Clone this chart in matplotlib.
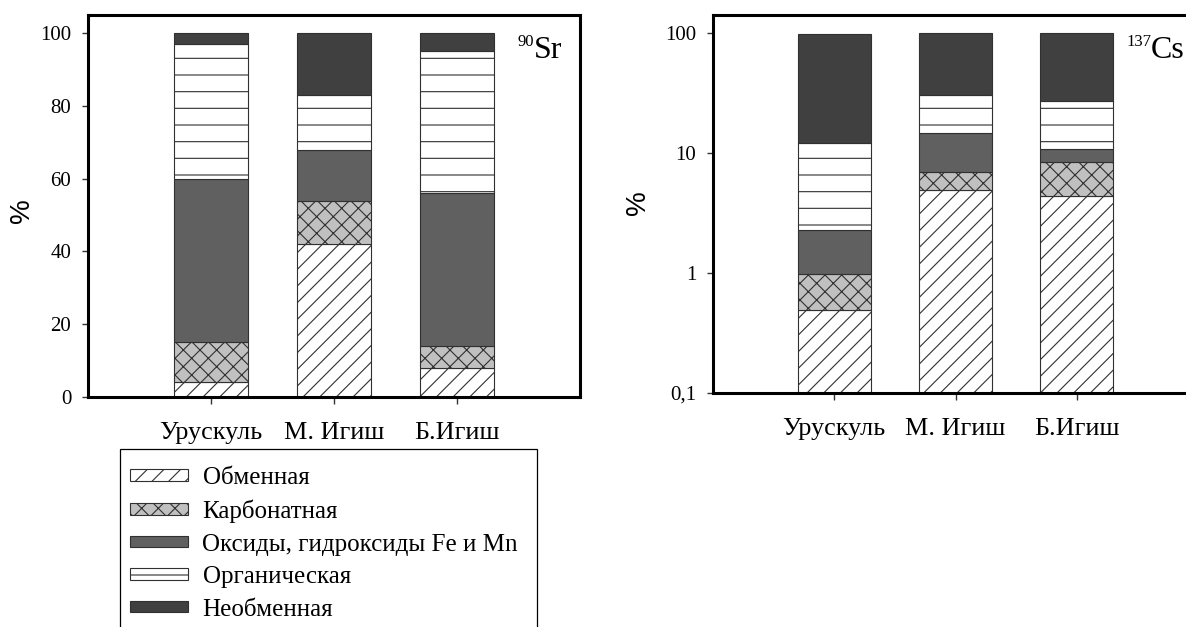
import matplotlib
matplotlib.use('Agg')
import matplotlib.pyplot as plt
from matplotlib.patches import Rectangle
from matplotlib.ticker import NullLocator
from matplotlib.transforms import ScaledTranslation

plt.rcParams['font.family'] = ['Liberation Serif', 'DejaVu Serif']
plt.rcParams['hatch.linewidth'] = 0.8
plt.rcParams['hatch.color'] = 'black'

# Sampling sites and soil fractions
sites = ['Урускуль', 'М. Игиш', 'Б.Игиш']
fractions = ['Обменная', 'Карбонатная', 'Оксиды, гидроксиды Fe и Mn',
             'Органическая', 'Необменная']

# 90Sr distribution over fractions, %
sr_exchange = [4, 42, 8]
sr_carbonate = [11, 12, 6]
sr_oxides = [45, 14, 42]
sr_organic = [37, 15, 39]
sr_residual = [3, 17, 5]

# 137Cs distribution over fractions, %
cs_exchange = [0.49, 4.9, 4.4]
cs_carbonate = [0.49, 2.0, 3.9]
cs_oxides = [1.3, 7.8, 2.5]
cs_organic = [9.7, 15.3, 16.2]
cs_residual = [86, 70, 72]

sr_ticks = [0, 20, 40, 60, 80, 100]
cs_ticks = [0.1, 1, 10, 100]
cs_tick_labels = ['0,1', '1', '10', '100']

styles = [
    dict(facecolor='white', hatch='//'),
    dict(facecolor='#c0c0c0', hatch='xx'),
    dict(facecolor='#606060', hatch=None),
    dict(facecolor='white', hatch='-'),
    dict(facecolor='#404040', hatch=None),
]

W, H = 1186, 627
fig = plt.figure(figsize=(W / 100, H / 100), dpi=100)


def px_axes(left, top, right, bottom):
    return fig.add_axes([left / W, 1 - bottom / H, (right - left) / W, (bottom - top) / H])


def stacked(ax, series):
    pos = list(range(1, len(sites) + 1))
    bottom = [0.0] * len(sites)
    handles = []
    for vals, st in zip(series, styles):
        bc = ax.bar(pos, vals, width=0.6, bottom=bottom, edgecolor='#303030',
                    linewidth=0.8, **st)
        handles.append(bc)
        bottom = [b + v for b, v in zip(bottom, vals)]
    ax.set_xlim(0, 4)
    ax.set_xticks(pos, sites, fontsize=18.8)
    ax.tick_params(axis='x', length=5, width=1, pad=13, color='#333333')
    ax.tick_params(axis='y', length=4, width=1, pad=8, color='#333333', labelsize=15)
    for sp in ax.spines.values():
        sp.set_linewidth(2.2)
    return handles


def isotope(ax, x0, y_base, mass, symbol, right_align):
    # mass number as a raised small label next to the element symbol
    t = ax.transAxes
    raised = t + ScaledTranslation(0, 12 / 100, fig.dpi_scale_trans)
    if right_align:
        sym = ax.text(x0, y_base, symbol, fontsize=23, ha='right', va='baseline',
                      transform=t)
        fig.canvas.draw()
        bb = sym.get_window_extent()
        xs = t.inverted().transform((bb.x0, bb.y0))[0]
        ax.text(xs, y_base, mass, fontsize=12, ha='right', va='baseline',
                transform=raised)
    else:
        m = ax.text(x0, y_base, mass, fontsize=12, ha='left', va='baseline',
                    transform=raised)
        fig.canvas.draw()
        bb = m.get_window_extent()
        xe = t.inverted().transform((bb.x1, bb.y0))[0]
        ax.text(xe, y_base, symbol, fontsize=23, ha='left', va='baseline',
                transform=t)


ax1 = px_axes(88, 15, 580, 397)
handles = stacked(ax1, [sr_exchange, sr_carbonate, sr_oxides, sr_organic, sr_residual])
ax1.set_ylim(0, 105)
ax1.set_yticks(sr_ticks)

ax2 = px_axes(713, 15, 1198, 393)
ax2.set_yscale('log')
stacked(ax2, [cs_exchange, cs_carbonate, cs_oxides, cs_organic, cs_residual])
ax2.set_ylim(0.1, 140)
ax2.set_yticks(cs_ticks, cs_tick_labels)
ax2.yaxis.set_minor_locator(NullLocator())

isotope(ax1, (562 - 88) / 492, (397 - 58) / 382, '90', 'Sr', True)
isotope(ax2, (1126 - 713) / 485, (393 - 58) / 378, '137', 'Cs', False)

for x, y in [(22, 211), (638, 203)]:
    fig.text(x / W, 1 - y / H, '%', rotation=90, family='Liberation Sans',
             fontsize=20, ha='center', va='center')

# Legend box, open at the bottom edge of the figure
fig.add_artist(Rectangle((120 / W, -0.1), (537 - 120) / W, (1 - 449 / H) + 0.1,
                         transform=fig.transFigure, fill=False, lw=0.9,
                         edgecolor='black'))
fig.legend(handles, fractions, loc='upper left',
           bbox_to_anchor=(130 / W, 1 - 467 / H), frameon=False,
           fontsize=18, handlelength=2.3, handleheight=0.33,
           handletextpad=0.6, labelspacing=0.42, borderpad=0, borderaxespad=0)

fig.savefig('out.png', dpi=100)
